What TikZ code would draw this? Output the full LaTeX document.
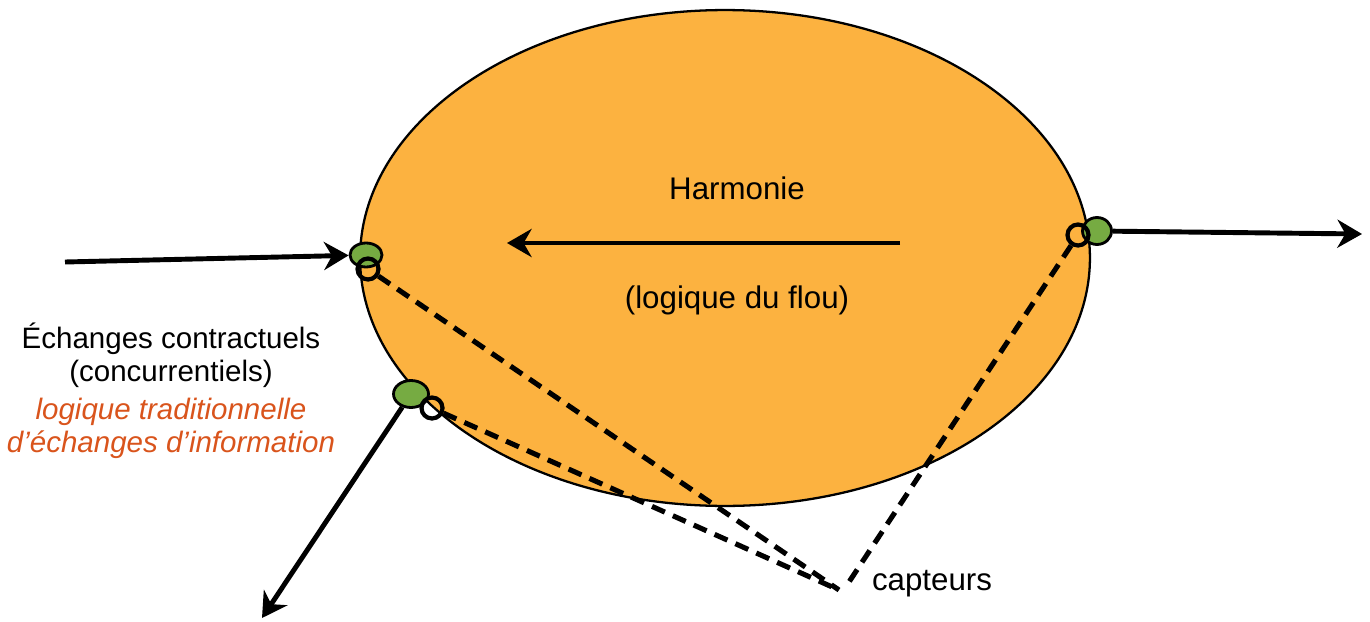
\documentclass[tikz,border=0pt]{standalone}
\usepackage{fontspec}
\setmainfont{Liberation Sans}
\usetikzlibrary{shapes.geometric,arrows.meta,positioning}

\definecolor{flou}{RGB}{252,178,64}
\definecolor{capteur}{RGB}{118,171,66}
\definecolor{tradi}{RGB}{217,84,28}

\begin{document}
\begin{tikzpicture}[x=0.02cm, y=-0.02cm]%
        \tikzstyle{sensor}=[ellipse, draw=black, line width=1.6pt, fill=capteur, inner sep=0pt, minimum width=0.64cm, minimum height=0.48cm];%
        \tikzstyle{probe}=[circle, draw=black, line width=2.4pt, inner sep=0pt, minimum size=0.42cm];%
        \tikzstyle{flow}=[line width=2.8pt, -{Stealth[length=14pt, width=16pt]}];%
        \tikzstyle{link}=[line width=2.9pt, dash pattern=on 8pt off 5pt];%
        \tikzstyle{txt}=[font=\fontsize{17.8}{21}\selectfont, align=center];%
        \useasboundingbox (0,0) rectangle (1370,622);

        % the organisation
        \node[ellipse, draw=black, line width=1.3pt, fill=flou, minimum width=14.6cm, minimum height=9.92cm] (org) at (725,258) {};
        \node (h) at (737,188) [txt] {Harmonie};
        \node (f) at (737,300) [txt] {(logique du flou)};
        \coordinate (hR) at (900,243);
        \coordinate (hL) at (507,243);
        \draw (hR) edge[flow] node {} (hL);

        % sensors on the border
        \node (g1) at (366,255) [sensor] {};
        \node (g2) at (411,394) [sensor, minimum width=0.7cm, minimum height=0.54cm] {};
        \node (g3) at (1097,231) [sensor, minimum width=0.58cm, minimum height=0.54cm] {};
        \node (c1) at (368,269) [probe] {};
        \node (c2) at (432,408) [probe] {};
        \node (c3) at (1078,235) [probe] {};

        % exchanges in and out
        \coordinate (in) at (65,262);
        \coordinate (out2) at (262,618);
        \coordinate (out3) at (1362,234);
        \draw (in) edge[flow] node {} (g1);
        \draw (g2) edge[flow] node {} (out2);
        \draw (g3) edge[flow] node {} (out3);

        % sensors down to the label
        \coordinate (cap) at (839,590);
        \coordinate (cap2) at (847,585);
        \draw (c1) edge[link] node {} (cap);
        \draw (c2) edge[link] node {} (cap);
        \draw (c3) edge[link] node {} (cap2);
        \node (capt) at (932,584) [txt] {capteurs};

        \node (ech) at (171,391) [txt, font=\fontsize{16.8}{18.8}\selectfont] {\'Echanges contractuels\\(concurrentiels)\\[3pt]
                {\color{tradi}\itshape logique traditionnelle}\\{\color{tradi}\itshape d’échanges d’information}};
\end{tikzpicture}
\end{document}
